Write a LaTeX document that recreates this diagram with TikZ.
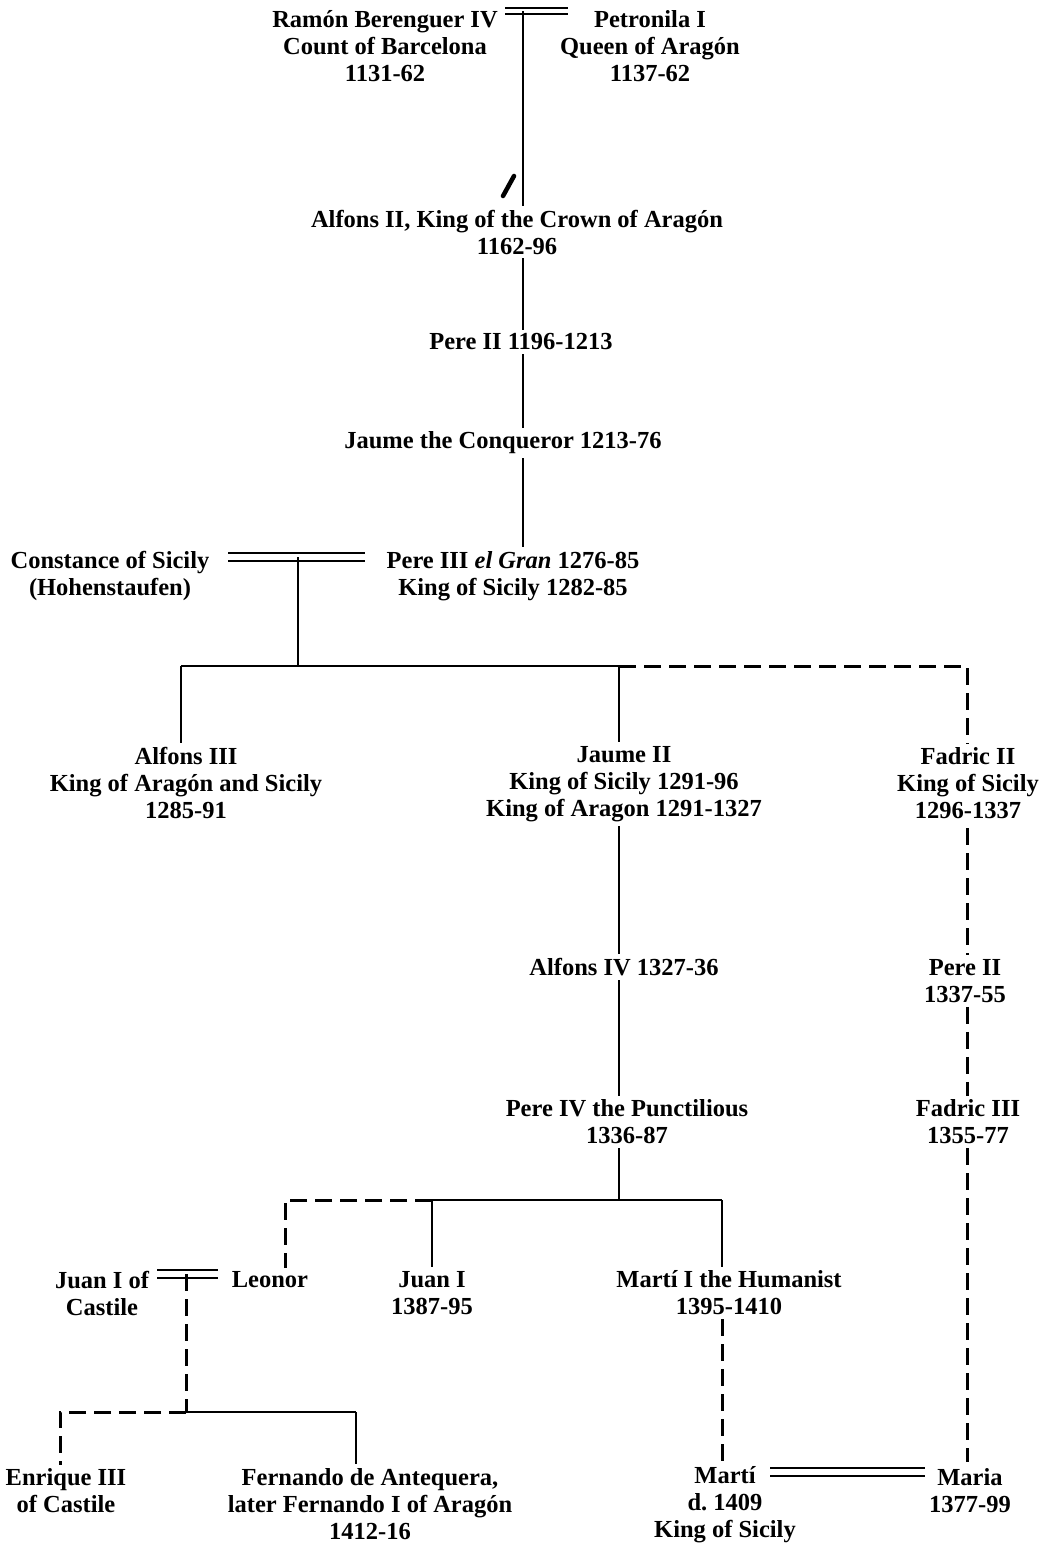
\documentclass[tikz,border=0pt]{standalone}
\usepackage{fontspec}
\setmainfont{Liberation Serif}
\begin{document}
\begin{tikzpicture}[x=1pt,y=-1pt,
  person/.style={align=center,inner xsep=2pt,inner ysep=4pt,font=\fontsize{24.5}{27}\selectfont\bfseries},
  sol/.style={line width=1.7pt},
  bar/.style={line width=2.6pt},
  dsh/.style={line width=3pt,dash pattern=on 17pt off 8pt},
  wed/.style={line width=2pt}]
\useasboundingbox (0,0) rectangle (1047,1547);
\fill[white] (0,0) rectangle (1047,1547);
% people
\node[person] (rb) at (385,46) {Ramón Berenguer IV\\Count of Barcelona\\1131-62};
\node[person] (pe) at (650,46) {Petronila I\\Queen of Aragón\\1137-62};
\node[person] (a2) at (517,232) {Alfons II, King of the Crown of Aragón\\1162-96};
\node[person] (p2) at (521,342) {Pere II 1196-1213};
\node[person] (jc) at (503,443) {Jaume the Conqueror 1213-76};
\node[person] (cs) at (110,576) {Constance of Sicily\\(Hohenstaufen)};
\node[person] (p3) at (513,576) {Pere III \textit{el Gran} 1276-85\\King of Sicily 1282-85};
\node[person] (a3) at (186,783) {Alfons III\\King of Aragón and Sicily\\1285-91};
\node[person] (j2) at (624,784) {Jaume II\\King of Sicily 1291-96\\King of Aragon 1291-1327};
\node[person] (f2) at (968,783) {Fadric II\\King of Sicily\\1296-1337};
\node[person] (a4) at (624,967) {Alfons IV 1327-36};
\node[person] (pb) at (965,981) {Pere II\\1337-55};
\node[person] (p4) at (627,1122) {Pere IV the Punctilious\\1336-87};
\node[person] (f3) at (968,1122) {Fadric III\\1355-77};
\node[person] (jk) at (102,1293) {Juan I of\\Castile};
\node[person] (le) at (270,1280) {Leonor};
\node[person] (ji) at (432,1293) {Juan I\\1387-95};
\node[person] (mh) at (729,1293) {Martí I the Humanist\\1395-1410};
\node[person] (en) at (66,1491) {Enrique III\\of Castile};
\node[person] (fe) at (370,1504) {Fernando de Antequera,\\later Fernando I of Aragón\\1412-16};
\node[person] (mt) at (725,1505) {Martí\\d.\ 1409\\King of Sicily};
\node[person] (mr) at (970,1491) {Maria\\1377-99};
% junction coordinates
\coordinate (w1) at (523,11);
\coordinate (w2) at (298,557);
\coordinate (b1) at (298,666);
\coordinate (b1l) at (181,666);
\coordinate (b1m) at (619,666);
\coordinate (b1r) at (967,666);
\coordinate (sx) at (967,828);
\coordinate (sy) at (967,1462);
\coordinate (b2) at (619,1200);
\coordinate (b2l) at (285,1200);
\coordinate (b2m) at (432,1200);
\coordinate (b2r) at (722,1200);
\coordinate (mx) at (722,1462);
\coordinate (w3) at (186,1274);
\coordinate (b3) at (186,1412);
\coordinate (b3l) at (60,1412);
\coordinate (b3r) at (356,1412);
% marriages
\draw[wed] (505,8) -- (568,8) (505,14) -- (568,14);
\draw[wed] (228,553) -- (365,553) (228,561) -- (365,561);
\draw[wed] (157,1270) -- (218,1270) (157,1278) -- (218,1278);
\draw[wed] (770,1468) -- (925,1468) (770,1476) -- (925,1476);
% main line
\draw[sol] (w1) -- (w1 |- a2.north);
\draw[line width=4.5pt,line cap=round] (503,196) -- (514,176);
\draw[sol] (a2.south -| w1) -- (p2.north -| w1);
\draw[sol] (p2.south -| w1) -- (jc.north -| w1);
\draw[sol] (jc.south -| w1) -- (p3.north -| w1);
\draw[sol] (w2) -- (b1);
% children of Pere III
\draw[bar] (b1l) -- (b1m);
\draw[dsh] (b1m) -- (b1r) -- (b1r |- f2.north);
\draw[sol] (b1l) -- (b1l |- a3.north);
\draw[sol] (b1m) -- (b1m |- j2.north);
% Aragon line
\draw[sol] (b1m |- j2.south) -- (b1m |- a4.north);
\draw[sol] (b1m |- a4.south) -- (b1m |- p4.north);
\draw[sol] (b1m |- p4.south) -- (b2);
% Sicily line
\draw[dsh] (sx) -- (sx |- pb.north);
\draw[dsh] (pb.south -| sx) -- (f3.north -| sx);
\draw[dsh] (f3.south -| sx) -- (sy);
% children of Pere IV
\draw[dsh] (b2m) -- (b2l) -- (b2l |- le.north);
\draw[bar] (b2m) -- (b2r);
\draw[sol] (b2m) -- (b2m |- ji.north);
\draw[sol] (b2r) -- (b2r |- mh.north);
\draw[dsh] (b2r |- mh.south) -- (mx);
% children of Juan I of Castile
\draw[dsh] (w3) -- (b3);
\draw[dsh] (b3) -- (b3l) -- (b3l |- en.north);
\draw[bar] (b3) -- (b3r);
\draw[sol] (b3r) -- (b3r |- fe.north);
\end{tikzpicture}
\end{document}
